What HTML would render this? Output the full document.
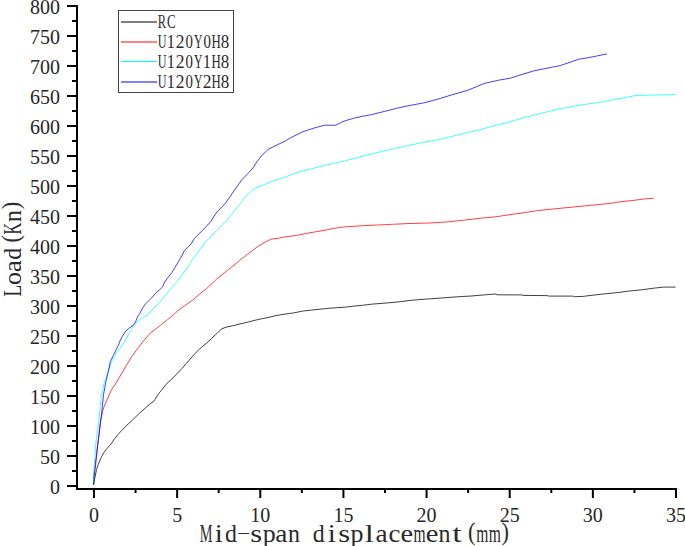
<!DOCTYPE html>
<html><head><meta charset="utf-8"><title>Load-displacement</title>
<style>html,body{margin:0;padding:0;background:#fff;width:685px;height:546px;overflow:hidden;font-family:"Liberation Serif",serif}
svg{display:block}</style></head>
<body>
<svg width="685" height="546" viewBox="0 0 685 546">
<rect width="685" height="546" fill="#fff"/>
<g stroke-opacity="0.75">
<polyline points="93.6,485.0 94.6,479.0 95.4,475.0 96.6,469.5 98.3,464.4 100.0,460.2 101.7,456.4 103.8,452.6 106.3,449.3 109.3,445.9 111.8,442.9 113.7,439.9 117.3,435.3 121.0,431.2 124.7,427.5 128.3,423.8 132.0,420.6 135.6,417.0 139.3,413.3 143.0,410.1 146.6,406.9 150.3,403.7 153.0,401.9 154.9,399.6 157.7,394.9 161.4,390.3 166.9,383.4 171.5,379.3 176.1,374.7 181.6,368.8 186.1,363.7 188.9,360.5 192.5,356.4 195.3,353.4 198.7,349.8 202.3,346.6 206.9,343.0 211.5,338.4 217.0,333.4 221.6,328.8 227.1,326.9 233.5,325.6 239.0,324.2 245.0,322.8 258.1,319.5 268.0,317.5 276.1,315.6 284.1,314.2 293.8,312.9 302.5,311.1 311.3,310.1 320.0,309.2 328.8,308.3 337.6,307.6 345.0,307.2 353.8,306.1 362.5,305.3 371.3,304.2 380.0,303.5 388.8,302.8 397.6,302.0 413.2,300.1 429.2,298.9 445.3,297.7 461.4,296.5 470.0,296.1 485.3,294.8 494.9,294.0 497.3,294.8 521.4,294.9 523.0,295.4 547.1,295.6 548.7,296.1 572.8,296.1 574.4,296.7 583.0,296.4 590.0,295.5 603.1,294.0 616.3,292.7 629.4,291.0 642.6,289.7 654.4,288.1 663.6,287.1 675.6,287.1" fill="none" stroke="#000" stroke-width="1.0" stroke-linejoin="round"/>
<polyline points="93.3,478.0 95.5,462.0 97.7,445.0 100.5,422.2 102.6,411.2 103.9,407.1 107.4,398.9 111.5,389.9 115.6,383.7 119.7,376.9 121.2,374.3 126.0,366.0 131.9,356.4 137.9,348.1 142.6,342.1 147.4,336.2 151.0,332.6 155.7,329.0 161.7,324.3 167.6,319.5 173.6,314.8 178.0,310.5 185.7,305.0 193.4,299.5 201.1,292.9 206.6,288.5 211.0,284.5 216.5,279.2 222.0,274.8 227.5,270.4 232.9,266.0 235.0,264.4 239.6,260.3 244.2,256.9 248.8,253.3 253.3,249.8 257.5,246.7 262.0,244.0 266.3,241.5 270.7,239.3 275.0,238.6 279.4,238.0 283.5,237.0 290.0,236.3 298.8,235.0 307.5,233.2 316.3,231.7 325.0,230.2 333.8,228.4 341.3,227.3 347.9,226.7 363.7,225.6 378.1,225.0 392.6,224.3 407.0,223.6 421.9,223.2 430.0,223.0 447.1,221.9 462.9,220.3 479.9,218.3 495.7,216.8 510.1,214.6 520.0,213.3 537.5,210.6 555.0,208.8 572.6,207.1 585.4,205.8 600.0,204.4 610.2,203.4 622.5,201.5 632.7,200.5 643.9,199.0 653.8,198.2" fill="none" stroke="#ff0000" stroke-width="1.0" stroke-linejoin="round"/>
<polyline points="93.3,482.0 95.7,445.0 96.2,440.0 98.4,425.0 101.2,397.5 103.9,383.7 107.4,374.1 108.8,368.9 111.7,361.6 116.1,352.8 120.0,348.7 124.8,341.0 129.5,332.6 134.3,324.3 137.9,321.3 143.8,317.1 147.7,315.0 149.8,313.0 153.2,308.8 158.7,303.4 164.2,296.8 169.7,290.2 175.2,283.6 180.7,277.0 186.2,269.3 190.5,262.7 192.1,260.0 197.6,252.7 205.3,242.3 211.9,235.2 217.4,229.7 222.9,224.2 228.4,218.7 233.8,211.5 239.3,205.0 245.2,197.1 252.4,190.0 258.3,187.0 265.5,184.0 272.6,181.1 279.8,178.7 285.0,177.2 293.8,173.6 302.5,171.0 311.3,168.8 320.0,166.6 328.8,164.5 337.6,162.3 345.0,160.9 354.8,158.3 364.7,155.5 384.4,150.9 404.1,146.3 423.8,142.3 436.5,140.1 454.7,135.7 474.4,131.1 494.1,125.9 513.8,120.6 520.0,118.9 539.7,113.6 559.4,109.0 571.9,106.7 586.5,104.1 600.0,102.3 609.0,100.4 623.6,97.9 636.0,95.5 649.6,95.1 663.3,94.8 675.7,94.5" fill="none" stroke="#00ffff" stroke-width="1.0" stroke-linejoin="round"/>
<polyline points="93.3,484.8 95.5,466.0 97.7,445.0 99.8,427.7 101.9,411.2 103.5,394.7 106.0,381.0 108.7,370.0 110.3,361.6 113.2,355.7 115.4,351.3 118.3,345.5 120.0,341.0 122.4,336.2 126.0,330.8 129.5,327.9 133.1,325.5 135.5,321.9 137.9,316.0 140.0,313.2 142.7,307.7 146.0,303.4 151.0,298.4 155.4,293.5 159.2,290.2 162.5,286.9 164.2,283.0 167.5,278.1 171.9,272.6 175.2,267.1 178.5,261.6 182.3,255.0 184.4,250.5 191.0,244.0 194.3,238.5 199.8,233.0 206.4,226.4 211.3,220.9 213.5,217.0 217.4,211.5 221.8,207.1 225.0,203.7 229.8,197.1 234.5,190.0 241.7,179.9 247.6,173.9 253.0,168.0 257.1,161.4 261.9,155.5 267.9,149.5 272.6,147.1 278.6,144.2 285.0,141.2 290.9,137.6 302.6,131.8 313.6,128.2 324.5,125.2 335.5,125.3 341.3,122.4 345.0,120.8 353.8,118.2 362.5,116.3 371.3,114.7 380.0,112.5 388.8,110.3 397.6,108.1 405.0,106.4 424.7,102.7 437.9,99.1 451.0,95.1 468.1,90.2 476.0,86.9 483.8,83.6 498.6,80.2 510.3,78.2 522.1,74.4 533.8,70.9 545.5,68.5 560.1,65.6 570.0,62.3 578.8,59.2 587.5,57.8 596.3,56.1 607.0,53.9" fill="none" stroke="#0000ff" stroke-width="1.0" stroke-linejoin="round"/>
</g>
<g stroke="#000" stroke-width="2" fill="none">
<line x1="77" y1="5" x2="77" y2="490"/>
<line x1="76" y1="489" x2="677" y2="489"/>
<line x1="67" y1="486.00" x2="77" y2="486.00"/>
<line x1="72" y1="471.00" x2="77" y2="471.00"/>
<line x1="67" y1="456.00" x2="77" y2="456.00"/>
<line x1="72" y1="441.00" x2="77" y2="441.00"/>
<line x1="67" y1="426.00" x2="77" y2="426.00"/>
<line x1="72" y1="411.00" x2="77" y2="411.00"/>
<line x1="67" y1="396.00" x2="77" y2="396.00"/>
<line x1="72" y1="381.00" x2="77" y2="381.00"/>
<line x1="67" y1="366.00" x2="77" y2="366.00"/>
<line x1="72" y1="351.00" x2="77" y2="351.00"/>
<line x1="67" y1="336.00" x2="77" y2="336.00"/>
<line x1="72" y1="321.00" x2="77" y2="321.00"/>
<line x1="67" y1="306.00" x2="77" y2="306.00"/>
<line x1="72" y1="291.00" x2="77" y2="291.00"/>
<line x1="67" y1="276.00" x2="77" y2="276.00"/>
<line x1="72" y1="261.00" x2="77" y2="261.00"/>
<line x1="67" y1="246.00" x2="77" y2="246.00"/>
<line x1="72" y1="231.00" x2="77" y2="231.00"/>
<line x1="67" y1="216.00" x2="77" y2="216.00"/>
<line x1="72" y1="201.00" x2="77" y2="201.00"/>
<line x1="67" y1="186.00" x2="77" y2="186.00"/>
<line x1="72" y1="171.00" x2="77" y2="171.00"/>
<line x1="67" y1="156.00" x2="77" y2="156.00"/>
<line x1="72" y1="141.00" x2="77" y2="141.00"/>
<line x1="67" y1="126.00" x2="77" y2="126.00"/>
<line x1="72" y1="111.00" x2="77" y2="111.00"/>
<line x1="67" y1="96.00" x2="77" y2="96.00"/>
<line x1="72" y1="81.00" x2="77" y2="81.00"/>
<line x1="67" y1="66.00" x2="77" y2="66.00"/>
<line x1="72" y1="51.00" x2="77" y2="51.00"/>
<line x1="67" y1="36.00" x2="77" y2="36.00"/>
<line x1="72" y1="21.00" x2="77" y2="21.00"/>
<line x1="67" y1="6.00" x2="77" y2="6.00"/>
<line x1="94.00" y1="489" x2="94.00" y2="498"/>
<line x1="135.57" y1="489" x2="135.57" y2="493"/>
<line x1="177.14" y1="489" x2="177.14" y2="498"/>
<line x1="218.71" y1="489" x2="218.71" y2="493"/>
<line x1="260.29" y1="489" x2="260.29" y2="498"/>
<line x1="301.86" y1="489" x2="301.86" y2="493"/>
<line x1="343.43" y1="489" x2="343.43" y2="498"/>
<line x1="385.00" y1="489" x2="385.00" y2="493"/>
<line x1="426.57" y1="489" x2="426.57" y2="498"/>
<line x1="468.14" y1="489" x2="468.14" y2="493"/>
<line x1="509.71" y1="489" x2="509.71" y2="498"/>
<line x1="551.29" y1="489" x2="551.29" y2="493"/>
<line x1="592.86" y1="489" x2="592.86" y2="498"/>
<line x1="634.43" y1="489" x2="634.43" y2="493"/>
<line x1="676.00" y1="489" x2="676.00" y2="498"/>
</g>
<g font-family="Liberation Serif" font-size="20" fill="#262626">
<text x="60" y="493.80" text-anchor="end">0</text>
<text x="60" y="463.80" text-anchor="end">50</text>
<text x="60" y="433.80" text-anchor="end">100</text>
<text x="60" y="403.80" text-anchor="end">150</text>
<text x="60" y="373.80" text-anchor="end">200</text>
<text x="60" y="343.80" text-anchor="end">250</text>
<text x="60" y="313.80" text-anchor="end">300</text>
<text x="60" y="283.80" text-anchor="end">350</text>
<text x="60" y="253.80" text-anchor="end">400</text>
<text x="60" y="223.80" text-anchor="end">450</text>
<text x="60" y="193.80" text-anchor="end">500</text>
<text x="60" y="163.80" text-anchor="end">550</text>
<text x="60" y="133.80" text-anchor="end">600</text>
<text x="60" y="103.80" text-anchor="end">650</text>
<text x="60" y="73.80" text-anchor="end">700</text>
<text x="60" y="43.80" text-anchor="end">750</text>
<text x="60" y="13.80" text-anchor="end">800</text>
<text x="94.00" y="522" text-anchor="middle">0</text>
<text x="177.14" y="522" text-anchor="middle">5</text>
<text x="260.29" y="522" text-anchor="middle">10</text>
<text x="343.43" y="522" text-anchor="middle">15</text>
<text x="426.57" y="522" text-anchor="middle">20</text>
<text x="509.71" y="522" text-anchor="middle">25</text>
<text x="592.86" y="522" text-anchor="middle">30</text>
<text x="676.00" y="522" text-anchor="middle">35</text>
</g>
<g font-family="Liberation Serif" fill="#2a2a2a">
<text x="-11.33" y="0" transform="translate(206.18,542.40) scale(0.563,1)" font-size="25.5">M</text>
<text x="-3.57" y="0" transform="translate(218.73,542.40) scale(1.138,1)" font-size="25.5">i</text>
<text x="-6.68" y="0" transform="translate(231.28,542.40) scale(0.937,1)" font-size="25.5">d</text>
<rect x="238.30" y="533.02" width="11.04" height="1"/>
<text x="-5.02" y="0" transform="translate(256.38,542.40) scale(1.199,1)" font-size="25.5">s</text>
<text x="-6.08" y="0" transform="translate(268.93,542.40) scale(1.018,1)" font-size="25.5">p</text>
<text x="-5.93" y="0" transform="translate(281.48,542.40) scale(1.071,1)" font-size="25.5">a</text>
<text x="-6.47" y="0" transform="translate(294.02,542.40) scale(0.938,1)" font-size="25.5">n</text>
<text x="-6.68" y="0" transform="translate(319.12,542.40) scale(0.937,1)" font-size="25.5">d</text>
<text x="-3.57" y="0" transform="translate(331.68,542.40) scale(1.138,1)" font-size="25.5">i</text>
<text x="-5.02" y="0" transform="translate(344.23,542.40) scale(1.199,1)" font-size="25.5">s</text>
<text x="-6.08" y="0" transform="translate(356.77,542.40) scale(1.018,1)" font-size="25.5">p</text>
<text x="-3.54" y="0" transform="translate(369.33,542.40) scale(1.283,1)" font-size="25.5">l</text>
<text x="-5.93" y="0" transform="translate(381.88,542.40) scale(1.071,1)" font-size="25.5">a</text>
<text x="-5.75" y="0" transform="translate(394.43,542.40) scale(1.050,1)" font-size="25.5">c</text>
<text x="-5.72" y="0" transform="translate(406.98,542.40) scale(1.117,1)" font-size="25.5">e</text>
<text x="-9.99" y="0" transform="translate(419.52,542.40) scale(0.611,1)" font-size="25.5">m</text>
<text x="-5.72" y="0" transform="translate(432.08,542.40) scale(1.117,1)" font-size="25.5">e</text>
<text x="-6.47" y="0" transform="translate(444.62,542.40) scale(0.938,1)" font-size="25.5">n</text>
<text x="-3.59" y="0" transform="translate(457.18,542.40) scale(1.350,1)" font-size="25.5">t</text>
<text x="-4.40" y="0" transform="translate(471.98,540.36) scale(0.881,1)" font-size="25.5">(</text>
<text x="-9.99" y="0" transform="translate(482.27,542.40) scale(0.611,1)" font-size="25.5">m</text>
<text x="-9.99" y="0" transform="translate(494.83,542.40) scale(0.611,1)" font-size="25.5">m</text>
<text x="-4.10" y="0" transform="translate(505.12,540.36) scale(0.881,1)" font-size="25.5">)</text>
<text x="-7.39" y="0" transform="translate(21.00,290.95) rotate(-90) scale(0.770,1)" font-size="25.5">L</text>
<text x="-6.38" y="0" transform="translate(21.00,278.45) rotate(-90) scale(1.018,1)" font-size="25.5">o</text>
<text x="-5.93" y="0" transform="translate(21.00,265.95) rotate(-90) scale(1.067,1)" font-size="25.5">a</text>
<text x="-6.68" y="0" transform="translate(21.00,253.45) rotate(-90) scale(0.933,1)" font-size="25.5">d</text>
<text x="-4.40" y="0" transform="translate(18.96,238.70) rotate(-90) scale(0.878,1)" font-size="25.5">(</text>
<text x="-9.44" y="0" transform="translate(21.00,228.45) rotate(-90) scale(0.660,1)" font-size="25.5">K</text>
<text x="-6.47" y="0" transform="translate(21.00,215.95) rotate(-90) scale(0.934,1)" font-size="25.5">n</text>
<text x="-4.10" y="0" transform="translate(18.96,205.70) rotate(-90) scale(0.878,1)" font-size="25.5">)</text>
</g>
<rect x="118.5" y="10.5" width="115" height="82" fill="#fff" stroke="#444" stroke-width="1"/>
<g font-family="Liberation Serif" fill="#2a2a2a">
<line x1="121" y1="22" x2="157" y2="22" stroke="#000" stroke-width="1"/>
<text x="-6.28" y="0" transform="translate(162.10,27.90) scale(0.687,1)" font-size="18.1">R</text>
<text x="-5.91" y="0" transform="translate(171.10,27.90) scale(0.714,1)" font-size="18.1">C</text>
<line x1="121" y1="42" x2="157" y2="42" stroke="#ff0000" stroke-width="1"/>
<text x="-6.54" y="0" transform="translate(162.10,47.90) scale(0.673,1)" font-size="18.1">U</text>
<text x="-4.78" y="0" transform="translate(171.10,47.90) scale(0.904,1)" font-size="18.1">1</text>
<text x="-4.42" y="0" transform="translate(180.10,47.90) scale(0.967,1)" font-size="18.1">2</text>
<text x="-4.53" y="0" transform="translate(189.10,47.90) scale(0.821,1)" font-size="18.1">0</text>
<text x="-6.41" y="0" transform="translate(198.10,47.90) scale(0.653,1)" font-size="18.1">Y</text>
<text x="-4.53" y="0" transform="translate(207.10,47.90) scale(0.821,1)" font-size="18.1">0</text>
<text x="-6.53" y="0" transform="translate(216.10,47.90) scale(0.711,1)" font-size="18.1">H</text>
<text x="-4.53" y="0" transform="translate(225.10,47.90) scale(0.939,1)" font-size="18.1">8</text>
<line x1="121" y1="61.5" x2="157" y2="61.5" stroke="#00ffff" stroke-width="1"/>
<text x="-6.54" y="0" transform="translate(162.10,67.90) scale(0.673,1)" font-size="18.1">U</text>
<text x="-4.78" y="0" transform="translate(171.10,67.90) scale(0.904,1)" font-size="18.1">1</text>
<text x="-4.42" y="0" transform="translate(180.10,67.90) scale(0.967,1)" font-size="18.1">2</text>
<text x="-4.53" y="0" transform="translate(189.10,67.90) scale(0.821,1)" font-size="18.1">0</text>
<text x="-6.41" y="0" transform="translate(198.10,67.90) scale(0.653,1)" font-size="18.1">Y</text>
<text x="-4.78" y="0" transform="translate(207.10,67.90) scale(0.904,1)" font-size="18.1">1</text>
<text x="-6.53" y="0" transform="translate(216.10,67.90) scale(0.711,1)" font-size="18.1">H</text>
<text x="-4.53" y="0" transform="translate(225.10,67.90) scale(0.939,1)" font-size="18.1">8</text>
<line x1="121" y1="82" x2="157" y2="82" stroke="#0000ff" stroke-width="1"/>
<text x="-6.54" y="0" transform="translate(162.10,87.90) scale(0.673,1)" font-size="18.1">U</text>
<text x="-4.78" y="0" transform="translate(171.10,87.90) scale(0.904,1)" font-size="18.1">1</text>
<text x="-4.42" y="0" transform="translate(180.10,87.90) scale(0.967,1)" font-size="18.1">2</text>
<text x="-4.53" y="0" transform="translate(189.10,87.90) scale(0.821,1)" font-size="18.1">0</text>
<text x="-6.41" y="0" transform="translate(198.10,87.90) scale(0.653,1)" font-size="18.1">Y</text>
<text x="-4.42" y="0" transform="translate(207.10,87.90) scale(0.967,1)" font-size="18.1">2</text>
<text x="-6.53" y="0" transform="translate(216.10,87.90) scale(0.711,1)" font-size="18.1">H</text>
<text x="-4.53" y="0" transform="translate(225.10,87.90) scale(0.939,1)" font-size="18.1">8</text>
</g>
</svg>
</body></html>
